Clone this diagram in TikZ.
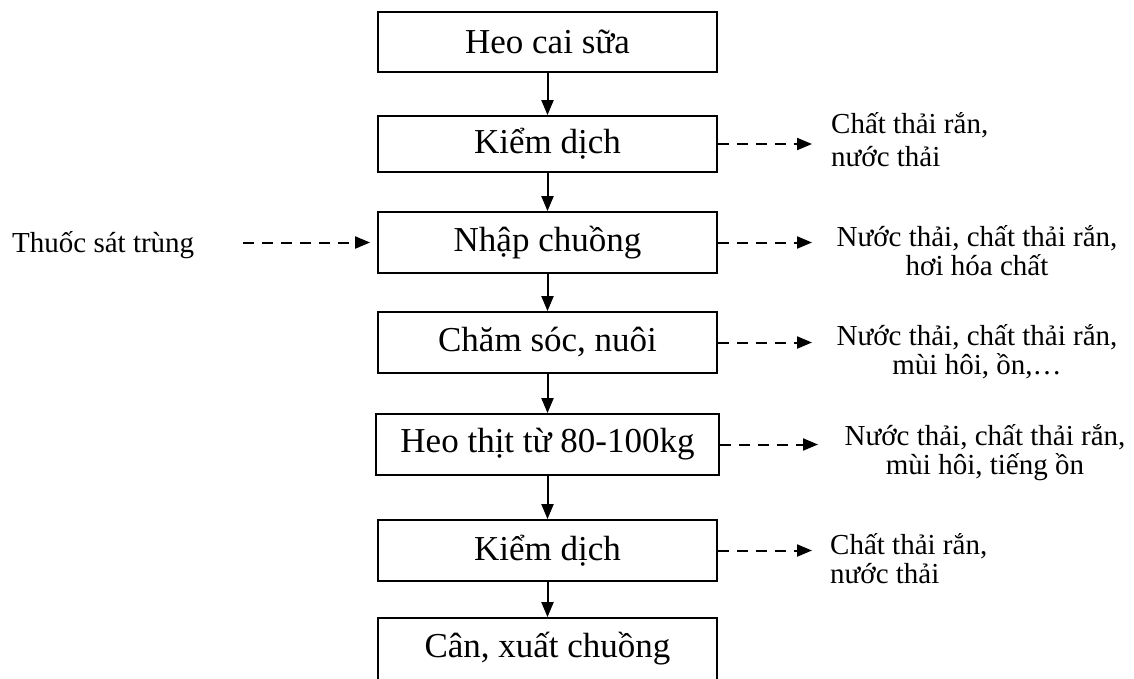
\documentclass[tikz,border=0pt]{standalone}
\usepackage{fontspec}
\setmainfont{Liberation Serif}
\usetikzlibrary{arrows.meta}
\begin{document}
\begin{tikzpicture}[x=1pt,y=-1pt,
  stage/.style={draw, line width=1.8pt, minimum width=339pt, minimum height=61pt,
                inner sep=0pt, font=\fontsize{35}{40}\selectfont},
  flow/.style={line width=2pt, -{Triangle[length=15pt,width=12pt]}},
  side/.style={line width=2pt, dash pattern=on 11pt off 8pt,
               -{Triangle[length=15pt,width=12pt]}},
  note/.style={inner sep=0pt, font=\fontsize{29}{30}\selectfont}]
\useasboundingbox (0,0) rectangle (1134,678);
\clip (0,0) rectangle (1134,678);

% process stages
\node[stage, minimum height=60pt] (b1) at (547.5,42) {Heo cai sữa};
\node[stage, minimum height=56pt] (b2) at (547.5,144) {Kiểm dịch};
\node[stage] (b3) at (547.5,242.5) {Nhập chuồng};
\node[stage] (b4) at (547.5,342.5) {Chăm sóc, nuôi};
\node[stage, minimum width=343pt] (b5) at (547.5,444.5) {Heo thịt từ 80-100kg};
\node[stage] (b6) at (547.5,550.5) {Kiểm dịch};
\node[stage, minimum height=62pt] (b7) at (547.5,649) {Cân, xuất chuồng};

% main flow
\draw[flow] (b1.south) -- (b2.north);
\draw[flow] (b2.south) -- (b3.north);
\draw[flow] (b3.south) -- (b4.north);
\draw[flow] (b4.south) -- (b5.north);
\draw[flow] (b5.south) -- (b6.north);
\draw[flow] (b6.south) -- (b7.north);

% input
\node[note, anchor=base west] (src) at (12,252) {Thuốc sát trùng};
\coordinate (s3) at (243,242.5);
\draw[side, shorten >=7pt] (s3) -- (b3.west);

% outputs
\coordinate (e2) at (812,144);
\coordinate (e3) at (812,242.5);
\coordinate (e4) at (812,342.5);
\coordinate (e5) at (818,444.5);
\coordinate (e6) at (812,550.5);
\draw[side] (b2.east) -- (b2.east -| e2);
\draw[side] (b3.east) -- (b3.east -| e3);
\draw[side] (b4.east) -- (b4.east -| e4);
\draw[side] (b5.east) -- (b5.east -| e5);
\draw[side] (b6.east) -- (b6.east -| e6);

\node[note, anchor=base west] (l2a) at (831,133) {Chất thải rắn,};
\node[note, anchor=base west] (l2b) at (831,166) {nước thải};

\node[note, anchor=base] (l3a) at (977,246) {Nước thải, chất thải rắn,};
\node[note, anchor=base] (l3b) at (977,275) {hơi hóa chất};

\node[note, anchor=base] (l4a) at (977,345) {Nước thải, chất thải rắn,};
\node[note, anchor=base] (l4b) at (977,374) {mùi hôi, ồn,…};

\node[note, anchor=base] (l5a) at (985,445) {Nước thải, chất thải rắn,};
\node[note, anchor=base] (l5b) at (985,474) {mùi hôi, tiếng ồn};

\node[note, anchor=base west] (l6a) at (830,554) {Chất thải rắn,};
\node[note, anchor=base west] (l6b) at (830,583) {nước thải};
\end{tikzpicture}
\end{document}
